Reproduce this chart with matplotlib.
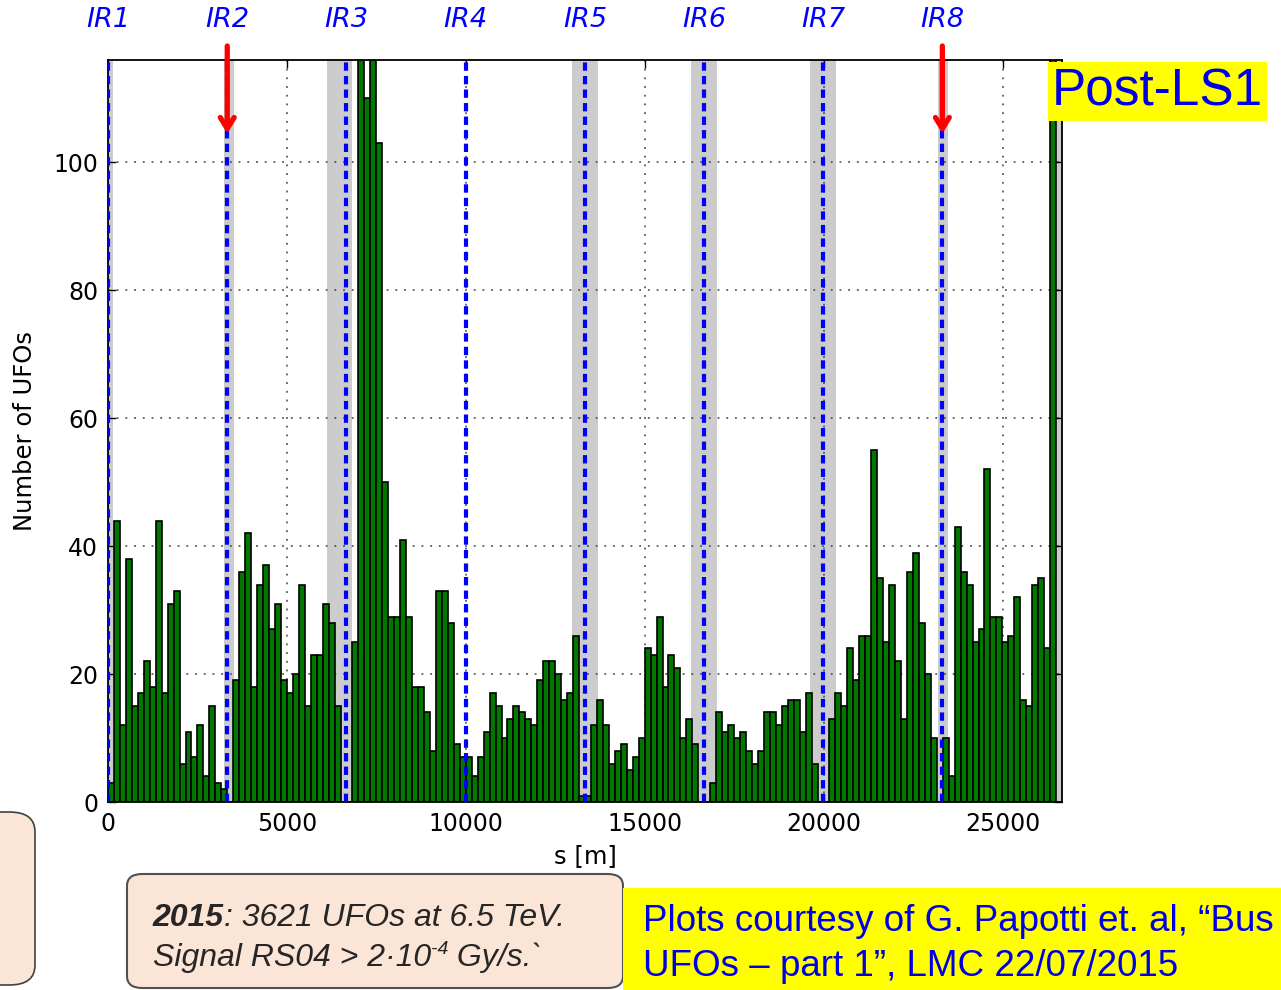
import numpy as np
import matplotlib
matplotlib.use("Agg")
import matplotlib.pyplot as plt
import matplotlib.transforms as mtransforms
from matplotlib.patches import FancyBboxPatch, Rectangle
from matplotlib.text import Annotation

# LHC ring, 160 bins along s
circumference = 26659.0
counts = [3, 44, 12, 38, 15, 17, 22, 18, 44, 17, 31, 33, 6, 11, 7, 12, 4, 15, 3, 2,
          0, 19, 36, 42, 18, 34, 37, 27, 31, 19, 17, 20, 34, 15, 23, 23, 31, 28, 15, 0,
          0, 25, 160, 110, 180, 103, 50, 29, 29, 41, 29, 18, 18, 14, 8, 33, 33, 28, 9, 7,
          7, 4, 7, 11, 17, 15, 10, 13, 15, 14, 13, 12, 19, 22, 22, 20, 16, 17, 26, 1,
          1, 12, 16, 12, 6, 8, 9, 5, 7, 10, 24, 23, 29, 18, 23, 21, 10, 13, 9, 0,
          0, 3, 14, 11, 12, 10, 11, 8, 6, 8, 14, 14, 12, 15, 16, 16, 11, 17, 6, 0,
          0, 13, 17, 15, 24, 19, 26, 26, 55, 35, 25, 34, 22, 13, 36, 39, 28, 20, 10, 0,
          10, 4, 43, 36, 34, 25, 27, 52, 29, 29, 25, 26, 32, 16, 15, 34, 35, 24, 180, 0]

ir_names = ["IR1", "IR2", "IR3", "IR4", "IR5", "IR6", "IR7", "IR8"]
ir_pos = [0.0, 3332.4, 6664.7, 9997.0, 13329.3, 16661.7, 19994.1, 23315.4]
band_start = [0, 26510, 3240, 6117, 12960, 16285, 19609, 23184]
band_end = [140, 26659, 3519, 6816, 13687, 17011, 20335, 23464]
arrow_at = ["IR2", "IR8"]

W, H = 1281, 990
fig = plt.figure(figsize=(W / 100, H / 100), dpi=100)
ax = fig.add_axes([108 / W, 1 - 802 / H, (1062 - 108) / W, (802 - 60) / H])

edges = np.linspace(0, circumference, len(counts) + 1)
width = edges[1] - edges[0]

for s0, s1 in zip(band_start, band_end):
    ax.axvspan(s0, s1, color="0.8", lw=0, zorder=0)

ax.bar(edges[:-1], counts, width=width, align="edge", color="#007800",
       edgecolor="black", linewidth=1.2, zorder=2)

top_trans = mtransforms.blended_transform_factory(ax.transData, fig.transFigure)
for name, s in zip(ir_names, ir_pos):
    ax.axvline(s, color="#0000ff", lw=3.0, dashes=(2.0, 1.25), zorder=4)
    ax.text(s, 1 - 20 / H, name, transform=top_trans, ha="center", va="center",
            color="#0000ff", style="italic", fontsize=19.5)
    if name in arrow_at:
        ax.annotate("", xy=(s, 104.5), xycoords="data",
                    xytext=(s, 1 - 46 / H), textcoords=("data", "figure fraction"),
                    arrowprops=dict(arrowstyle="->,head_width=0.5,head_length=0.8",
                                    color="#ff0000", lw=3.8, shrinkA=0, shrinkB=0),
                    annotation_clip=False, zorder=6)

ax.set_xlim(0, circumference)
ax.set_ylim(0, 116)
ax.set_xticks([0, 5000, 10000, 15000, 20000, 25000])
ax.set_yticks([0, 20, 40, 60, 80, 100])
ax.tick_params(direction="in", labelsize=17, length=6, width=1, top=True, right=True, pad=7)
ax.grid(True, linestyle=(0, (1.2, 4.5)), color="0.25", lw=1.1, zorder=1)
ax.set_axisbelow(True)
ax.set_xlabel("s [m]", fontsize=17.5, labelpad=6)
ax.set_ylabel("Number of UFOs", fontsize=17.5, labelpad=12)
for sp in ax.spines.values():
    sp.set_linewidth(1.3)

sans = ["Liberation Sans", "DejaVu Sans"]
ink = "#262626"

# Post-LS1 tag
fig.patches.append(Rectangle((1048 / W, 1 - 121 / H), (1267 - 1048) / W, (121 - 62) / H,
                             transform=fig.transFigure, facecolor="#ffff00",
                             edgecolor="none", zorder=10))
fig.text(1157 / W, 1 - 92 / H, "Post-LS1", family=sans, fontsize=37, color="#0000e6",
         ha="center", va="center", zorder=11)

# partial box at lower left
fig.patches.append(FancyBboxPatch((-60 / W, 1 - 985 / H), 95 / W, (985 - 812) / H,
                                  boxstyle="round,pad=0,rounding_size=0.02",
                                  transform=fig.transFigure, facecolor="#fbe5d6",
                                  edgecolor="#404040", lw=1.2, zorder=10))

# 2015 box
fig.patches.append(FancyBboxPatch((127 / W, 1 - 988 / H), (623 - 127) / W, (988 - 874) / H,
                                  boxstyle="round,pad=0,rounding_size=0.012",
                                  transform=fig.transFigure, facecolor="#fbe5d6",
                                  edgecolor="#505050", lw=1.5, zorder=10))


def after(xref, yref, text, size=23, dy=0.0):
    a = Annotation(text, xy=(1, dy), xycoords=(xref, yref), va="bottom", family=sans,
                   fontsize=size, style="italic", color=ink, annotation_clip=False,
                   zorder=11)
    fig.add_artist(a)
    return a


t1 = fig.text(153 / W, 1 - 926 / H, "2015", family=sans, fontsize=23, style="italic",
              weight="bold", color=ink, va="baseline", zorder=11)
after(t1, t1, ": 3621 UFOs at 6.5 TeV.")
t2 = fig.text(153 / W, 1 - 966 / H, "Signal RS04 > 2\u00b710", family=sans, fontsize=23,
              style="italic", color=ink, va="baseline", zorder=11)
t3 = after(t2, t2, "-4", size=14, dy=0.5)
after(t3, t2, " Gy/s.`")

# credits box
fig.patches.append(Rectangle((623 / W, 0), (W - 623) / W, (990 - 888) / H,
                             transform=fig.transFigure, facecolor="#ffff00",
                             edgecolor="none", zorder=10))
fig.text(643 / W, 1 - 931 / H, "Plots courtesy of G. Papotti et. al, \u201cBus",
         family=sans, fontsize=26.5, color="#0000e6", va="baseline", zorder=11)
fig.text(643 / W, 1 - 976 / H, "UFOs \u2013 part 1\u201d, LMC 22/07/2015",
         family=sans, fontsize=26.5, color="#0000e6", va="baseline", zorder=11)

fig.savefig("out.png", dpi=100)
